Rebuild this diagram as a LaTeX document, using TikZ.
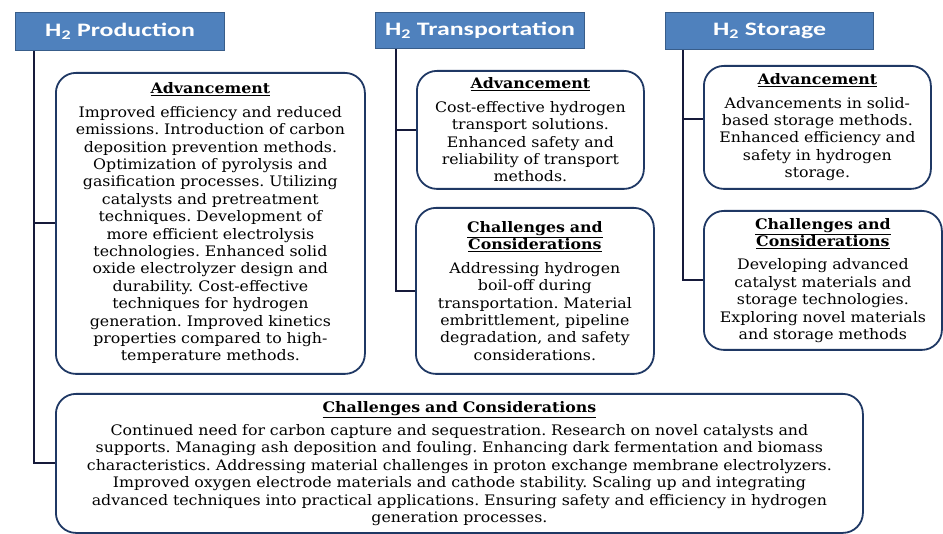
\documentclass[tikz,border=0pt]{standalone}
\usepackage{fontspec}
\setmainfont{DejaVu Serif}[FakeStretch=1.09]
\newfontfamily\headfont{Carlito}[FakeStretch=1.36]
\frenchspacing

\definecolor{headblue}{RGB}{79,129,189}
\definecolor{headedge}{RGB}{56,93,138}
\definecolor{boxedge}{RGB}{31,56,100}
\definecolor{linknavy}{RGB}{22,26,58}

\newcommand{\boxtitle}[1]{\underline{\textbf{#1}}}

\begin{document}
\begin{tikzpicture}[
    x=1pt, y=-1pt,
    head/.style={draw=headedge, line width=1.2pt, fill=headblue, text=white, anchor=north west,
        inner sep=0pt, font=\headfont\bfseries\fontsize{19}{21}\selectfont},
    infobox/.style={draw=boxedge, line width=1.8pt, rounded corners=20pt, fill=white, anchor=north west,
        inner sep=0pt, align=center, font=\fontsize{14.5}{17.4}\selectfont},
    link/.style={draw=linknavy, line width=2.2pt}
]
\useasboundingbox (0,0) rectangle (943,534);

% column heads
\node[head, minimum width=209pt, minimum height=38pt] (prodHead) at (15,12) {H\textsubscript{2} Production};
\node[head, minimum width=209pt, minimum height=36pt] (transHead) at (375,12) {H\textsubscript{2} Transportation};
\node[head, minimum width=208pt, minimum height=37pt] (stoHead) at (665,12) {H\textsubscript{2} Storage};

% production
\node[infobox, minimum width=309pt, minimum height=301pt, text width=305pt] (prodAdv) at (55,72) {%
    \boxtitle{Advancement}\\[6pt]
    Improved efficiency and reduced\\
    emissions. Introduction of carbon\\
    deposition prevention methods.\\
    Optimization of pyrolysis and\\
    gasification processes. Utilizing\\
    catalysts and pretreatment\\
    techniques. Development of\\
    more efficient electrolysis\\
    technologies. Enhanced solid\\
    oxide electrolyzer design and\\
    durability. Cost-effective\\
    techniques for hydrogen\\
    generation. Improved kinetics\\
    properties compared to high-\\
    temperature methods.};
\node[infobox, minimum width=807pt, minimum height=139pt, text width=800pt] (prodCC) at (55,393) {%
    \boxtitle{Challenges and Considerations}\\[6pt]
    Continued need for carbon capture and sequestration. Research on novel catalysts and\\
    supports. Managing ash deposition and fouling. Enhancing dark fermentation and biomass\\
    characteristics. Addressing material challenges in proton exchange membrane electrolyzers.\\
    Improved oxygen electrode materials and cathode stability. Scaling up and integrating\\
    advanced techniques into practical applications. Ensuring safety and efficiency in hydrogen\\
    generation processes.};

% transportation
\node[infobox, minimum width=227pt, minimum height=118pt, text width=224pt] (transAdv) at (416,70) {%
    \boxtitle{Advancement}\\[6pt]
    Cost-effective hydrogen\\
    transport solutions.\\
    Enhanced safety and\\
    reliability of transport\\
    methods.};
\node[infobox, minimum width=238pt, minimum height=166pt, text width=234pt] (transCC) at (415,207) {%
    \boxtitle{Challenges and}\\
    \boxtitle{Considerations}\\[6pt]
    Addressing hydrogen\\
    boil-off during\\
    transportation. Material\\
    embrittlement, pipeline\\
    degradation, and safety\\
    considerations.};

% storage
\node[infobox, minimum width=227pt, minimum height=123pt, text width=224pt] (stoAdv) at (703,65) {%
    \boxtitle{Advancement}\\[6pt]
    Advancements in solid-\\
    based storage methods.\\
    Enhanced efficiency and\\
    safety in hydrogen\\
    storage.};
\node[infobox, minimum width=238pt, minimum height=139pt, text width=236pt] (stoCC) at (703,210) {%
    \boxtitle{Challenges and}\\
    \boxtitle{Considerations}\\[6pt]
    Developing advanced\\
    catalyst materials and\\
    storage technologies.\\
    Exploring novel materials\\
    and storage methods};

% branch lines
\coordinate (prodRoot) at ([xshift=19pt]prodHead.south west);
\coordinate (transRoot) at ([xshift=21pt]transHead.south west);
\coordinate (stoRoot) at ([xshift=18pt]stoHead.south west);

\draw[link] (prodRoot) |- (prodAdv.west);
\draw[link] (prodRoot) |- (prodCC.west);
\draw[link] (transRoot) |- (transAdv.west);
\draw[link] (transRoot) |- (transCC.west);
\draw[link] (stoRoot) |- ([yshift=8pt]stoAdv.west);
\draw[link] (stoRoot) |- (stoCC.west);
\end{tikzpicture}
\end{document}
